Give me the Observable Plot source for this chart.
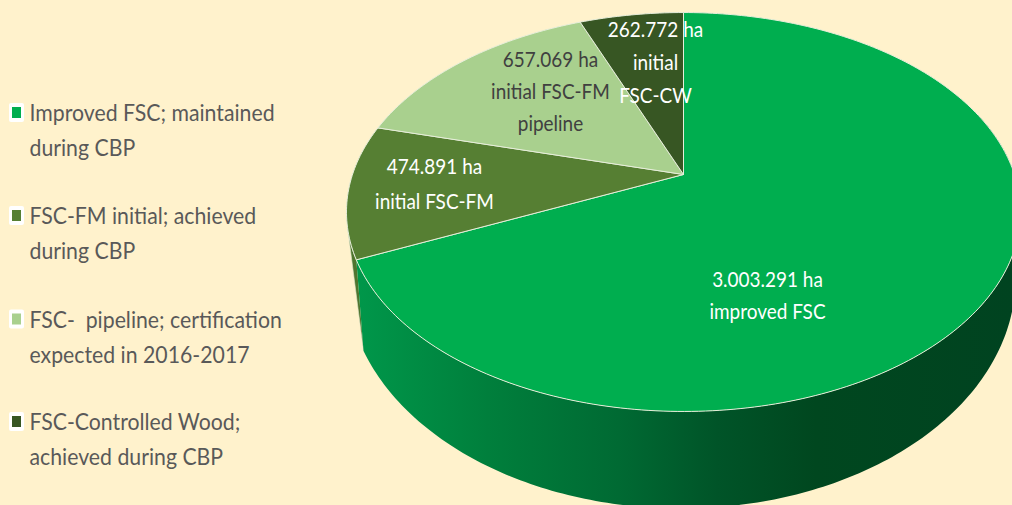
<!DOCTYPE html>
<html>
<head>
<meta charset="utf-8">
<script src="https://cdn.jsdelivr.net/npm/d3@7"></script>
<script src="https://cdn.jsdelivr.net/npm/@observablehq/plot@0.6"></script>
<style>
html,body{margin:0;padding:0;background:#fff2cc;overflow:hidden;width:1012px;height:505px}
svg{display:block;background:#fff2cc}
</style>
</head>
<body>
<div id="chart"></div>
<script>
// Data
const categories = ["Improved FSC", "FSC-FM initial", "FSC-FM pipeline", "FSC-Controlled Wood"];
const hectares = [3003291, 474891, 657069, 262772];
const sliceColors = ["#00ae4f", "#567f33", "#a9d08e", "#375623"];
const legendLabels = [
  "Improved FSC; maintained\nduring CBP",
  "FSC-FM initial; achieved\nduring CBP",
  "FSC-  pipeline; certification\nexpected in 2016-2017",
  "FSC-Controlled Wood;\nachieved during CBP"
];
const sliceLabels = [
  "3.003.291 ha\nimproved FSC",
  "474.891 ha\ninitial FSC-FM",
  "657.069 ha\ninitial FSC-FM\npipeline",
  "262.772 ha\ninitial\nFSC-CW"
];
const labelColors = ["#ffffff", "#ffffff", "#404040", "#ffffff"];

// Layout of the perspective pie
const top3d = {cx: 683, cy: 174, r: 331, c: -159.7, k: 0.188};
const rim3d = {cx: 680.5, cy: 278, rx: 334.5, ry: 230};
const labelAnchors = [[767, 292], [434, 180], [550, 88], [655, 59]];
const labelLeading = [32, 35, 32, 33];
const legendRows = [130, 233, 336.5, 439];

const rad = d => d * Math.PI / 180;
function onTop(deg) {
  const u = Math.sin(rad(deg)), v = Math.cos(rad(deg)), w = 1 + top3d.k * v;
  return {x: top3d.cx + top3d.r * u / w, y: (top3d.cy + top3d.c * v) / w};
}
function onRim(deg) {
  return {x: rim3d.cx + rim3d.rx * Math.sin(rad(deg)), y: rim3d.cy - rim3d.ry * Math.cos(rad(deg))};
}
const arc = (f, a, b) => {
  const n = Math.max(2, Math.ceil(Math.abs(b - a)));
  return d3.range(n + 1).map(i => f(a + (b - a) * i / n));
};

const total = d3.sum(hectares);
const ends = d3.cumsum(hectares).map(v => v / total * 360);
const starts = [0, ...ends.slice(0, -1)];
const sliceShapes = categories.map((c, i) => [
  {x: top3d.cx, y: top3d.cy},
  ...arc(onTop, starts[i], ends[i]),
  {x: top3d.cx, y: top3d.cy}
]);
// visible side walls
const wallEdge = ends[0];
const mainWall = [...arc(onTop, 70, wallEdge), ...arc(onRim, wallEdge + 5.8, 70)];
const fmWall = [...arc(onTop, wallEdge, wallEdge + 8.5), onRim(wallEdge + 5.8)];

const wallGradient = () => {
  const s = d3.create("svg:defs");
  const g = s.append("linearGradient").attr("id", "wall")
    .attr("gradientUnits", "userSpaceOnUse")
    .attr("x1", 356).attr("x2", 1012).attr("y1", 0).attr("y2", 0);
  [[0, "#00974a"], [0.2, "#007f3c"], [0.4, "#006a33"], [0.55, "#005428"], [0.7, "#00471f"], [1, "#004320"]]
    .forEach(([o, c]) => g.append("stop").attr("offset", o).attr("stop-color", c));
  return s.node();
};

const legend = categories.map((c, i) => ({label: legendLabels[i], color: sliceColors[i], row: legendRows[i]}));
const labels = sliceLabels.map((t, i) => ({text: t, color: labelColors[i], at: labelAnchors[i], lead: labelLeading[i]}));
const labelFont = {fontFamily: "Lato, 'Open Sans', sans-serif", fontSize: 20.5};

const chart = Plot.plot({
  width: 1012, height: 505, margin: 0,
  x: {domain: [0, 1012], range: [0, 1012], axis: null},
  y: {domain: [0, 505], range: [0, 505], axis: null},
  style: {background: "#fff2cc", overflow: "hidden"},
  marks: [
    wallGradient,
    Plot.line(fmWall, {x: "x", y: "y", fill: "#4f752f", stroke: "#dfe6cc", strokeWidth: 0.6}),
    Plot.line(mainWall, {x: "x", y: "y", fill: "url(#wall)"}),
    ...sliceShapes.map((pts, i) => Plot.line(pts, {x: "x", y: "y", fill: sliceColors[i], stroke: "#e6eeda", strokeWidth: 1})),
    ...labels.map(l => Plot.text([l], {
      x: () => l.at[0], y: () => l.at[1], text: "text", fill: l.color, lineHeight: l.lead / labelFont.fontSize,
      textAnchor: "middle", ...labelFont
    })),
    Plot.rect(legend, {x1: () => 9, x2: () => 24, y1: d => d.row - 27, y2: d => d.row - 8, fill: "white", r: 2}),
    Plot.rect(legend, {x1: () => 12, x2: () => 21, y1: d => d.row - 23, y2: d => d.row - 12, fill: "color"}),
    Plot.text(legend, {
      x: () => 29, y: d => d.row - 3, text: "label", textAnchor: "start", fill: "#595959",
      fontFamily: "Lato, 'Open Sans', sans-serif", fontSize: 23, lineHeight: 35 / 23
    })
  ]
});
// The reference type is condensed: narrow the glyphs horizontally, keeping their height
d3.select(chart).selectAll("text").filter(function() { return this.getAttribute("transform"); })
  .attr("transform", function() { return this.getAttribute("transform") + " scale(0.925,1)"; });
document.getElementById("chart").appendChild(chart);
</script>
</body>
</html>
